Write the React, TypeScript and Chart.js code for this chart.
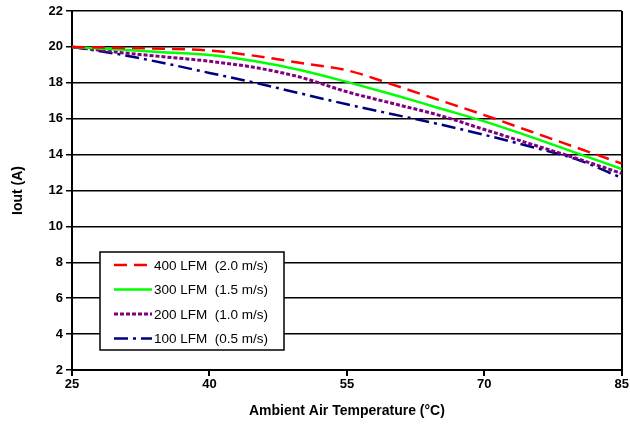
import React, { useEffect, useRef } from "react";
import { Chart, registerables } from "chart.js";

Chart.register(...registerables);

const temps = [25, 30, 35, 40, 45, 50, 55, 60, 65, 70, 75, 80, 85];
const lfm400 = [20, 19.95, 19.9, 19.8, 19.5, 19.1, 18.7, 17.9, 17.05, 16.2, 15.3, 14.4, 13.5];
const lfm300 = [20, 19.85, 19.7, 19.55, 19.2, 18.7, 18.05, 17.35, 16.6, 15.85, 15.0, 14.1, 13.2];
const lfm200 = [20, 19.7, 19.45, 19.2, 18.85, 18.3, 17.5, 16.85, 16.2, 15.4, 14.6, 13.8, 12.95];
const lfm100 = [20, 19.6, 19.1, 18.55, 18.0, 17.4, 16.8, 16.25, 15.7, 15.1, 14.45, 13.75, 12.7];
const seriesLabels = ["400 LFM  (2.0 m/s)", "300 LFM  (1.5 m/s)", "200 LFM  (1.0 m/s)", "100 LFM  (0.5 m/s)"];
const xTitle = "Ambient Air Temperature (°C)";
const yTitle = "Iout (A)";

const FONT = "'Liberation Sans', Arial, sans-serif";

const legendPlugin = {
  id: "boxLegend",
  afterDraw(chart: any) {
    const ctx = chart.ctx;
    const x0 = 100, y0 = 252, w = 184, h = 98;
    ctx.save();
    ctx.fillStyle = "#fff";
    ctx.fillRect(x0, y0, w, h);
    ctx.strokeStyle = "#000";
    ctx.lineWidth = 1.5;
    ctx.setLineDash([]);
    ctx.strokeRect(x0, y0, w, h);
    const rows = [265, 289.5, 314, 338.5];
    chart.data.datasets.forEach((ds: any, i: number) => {
      const y = rows[i];
      ctx.beginPath();
      ctx.strokeStyle = ds.borderColor;
      ctx.lineWidth = ds.borderWidth;
      ctx.setLineDash(ds.borderDash || []);
      ctx.moveTo(114, y);
      ctx.lineTo(152, y);
      ctx.stroke();
      ctx.setLineDash([]);
      ctx.fillStyle = "#000";
      ctx.font = `13.5px ${FONT}`;
      ctx.textBaseline = "middle";
      ctx.textAlign = "left";
      ctx.fillText(ds.label, 154, y + 1);
    });
    ctx.restore();
  },
};

export default function App() {
  const ref = useRef<HTMLCanvasElement | null>(null);
  useEffect(() => {
    document.body.style.margin = "0";
    const mk = (label: string, data: number[], color: string, width: number, dash: number[]) => ({
      label,
      data: temps.map((t, i) => ({ x: t, y: data[i] })),
      borderColor: color,
      backgroundColor: color,
      borderWidth: width,
      borderDash: dash,
      pointRadius: 0,
      cubicInterpolationMode: "monotone" as const,
      fill: false,
    });
    const chart = new Chart(ref.current!, {
      type: "line",
      data: {
        datasets: [
          mk(seriesLabels[0], lfm400, "#ff0000", 2.5, [13, 7]),
          mk(seriesLabels[1], lfm300, "#00ff00", 2.5, []),
          mk(seriesLabels[2], lfm200, "#800080", 3, [4, 2]),
          mk(seriesLabels[3], lfm100, "#000080", 2.5, [14, 5, 3, 5]),
        ],
      },
      options: {
        animation: false,
        responsive: false,
        layout: { padding: { top: 11, right: 8, left: 10, bottom: 9 } },
        plugins: { legend: { display: false }, tooltip: { enabled: false } },
        scales: {
          x: {
            type: "linear",
            min: 25,
            max: 85,
            border: { color: "#000", width: 2 },
            grid: {
              color: (c: any) => (c.tick && c.tick.value === 85 ? "#000" : "rgba(0,0,0,0)"),
              lineWidth: 2,
              tickColor: "#000",
              tickLength: 6,
            },
            ticks: {
              stepSize: 15,
              color: "#000",
              font: { family: FONT, size: 13, weight: "bold" },
              padding: 1,
              maxRotation: 0,
            },
            title: {
              display: true,
              text: xTitle,
              color: "#000",
              font: { family: FONT, size: 14, weight: "bold" },
              padding: { top: 6, bottom: 0 },
            },
            afterFit: (s: any) => {
              s.height = 50;
            },
          },
          y: {
            min: 2,
            max: 22,
            border: { color: "#000", width: 2 },
            grid: { color: "#000", lineWidth: 1.5, tickColor: "#000", tickLength: 6 },
            ticks: {
              stepSize: 2,
              color: "#000",
              font: { family: FONT, size: 13, weight: "bold" },
              padding: 3,
            },
            title: {
              display: true,
              text: yTitle,
              color: "#000",
              font: { family: FONT, size: 14, weight: "bold" },
              padding: { top: 0, bottom: 10 },
            },
            afterFit: (s: any) => {
              s.width = 62;
            },
          },
        },
      },
      plugins: [legendPlugin],
    } as any);
    return () => chart.destroy();
  }, []);
  return (
    <div style={{ width: 630, height: 429, background: "#fff" }}>
      <canvas ref={ref} width={630} height={429} style={{ display: "block" }} />
    </div>
  );
}
